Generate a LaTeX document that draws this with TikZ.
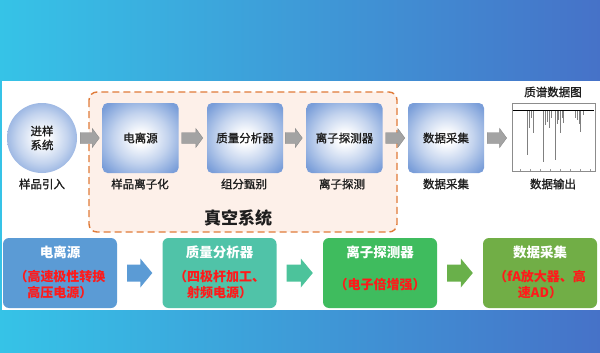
\documentclass[tikz,border=0pt]{standalone}
\usepackage{fontspec}
\setmainfont{Noto Sans CJK SC}
\newfontfamily\medfont[FakeBold=1.2]{Noto Sans CJK SC}
\usetikzlibrary{calc}
\definecolor{bandL}{HTML}{36C3E7}
\definecolor{bandR}{HTML}{4672C8}
\definecolor{vacline}{HTML}{E07B39}
\definecolor{vacfill}{HTML}{FDF0E9}
\definecolor{boxblue}{HTML}{7A9ED9}
\definecolor{boxbluedark}{HTML}{6486CC}
\definecolor{arrgray}{HTML}{A3A3A3}
\definecolor{arrgrayd}{HTML}{8C8C8C}
\definecolor{txt}{HTML}{1E1E1E}
\definecolor{cA}{HTML}{5B9BD5}
\definecolor{cB}{HTML}{50C3A8}
\definecolor{cC}{HTML}{3FBC5E}
\definecolor{cD}{HTML}{71AE46}
\definecolor{aB}{HTML}{4CC39B}
\definecolor{aC}{HTML}{69B04A}
\definecolor{redtxt}{HTML}{FF1A1A}
\pgfdeclareradialshading{boxshade}{\pgfpoint{0bp}{0bp}}{%
  color(0bp)=(white); color(4bp)=(white); color(18bp)=(boxblue!45!white);
  color(32bp)=(boxblue); color(50bp)=(boxblue!80!boxbluedark); color(70bp)=(boxbluedark)}
\newcommand\blockarr[6]{%
  \fill[#6] let \p1=(#1), \p2=(#2) in
    (\x1,\y1+#3) -- (\x2-#5,\y1+#3) -- (\x2-#5,\y1+#4) -- (\x2,\y1)
    -- (\x2-#5,\y1-#4) -- (\x2-#5,\y1-#3) -- (\x1,\y1-#3) -- cycle;}
\begin{document}
\begin{tikzpicture}[x=1pt,y=-1pt,
  topbox/.style={rectangle, rounded corners=5, shading=boxshade,
    minimum width=76, minimum height=70, inner sep=0,
    font=\medfont\fontsize{11.5}{13}\selectfont, text=txt},
  toplabel/.style={font=\medfont\fontsize{11.5}{13}\selectfont, text=txt, inner sep=0},
  botbox/.style={rectangle, rounded corners=6, minimum width=114, minimum height=70, inner sep=0},
  bottitle/.style={font=\bfseries\fontsize{13.5}{15}\selectfont, text=white, inner sep=0},
  botred/.style={font=\bfseries\fontsize{13}{16}\selectfont, text=redtxt, inner sep=0, align=center},
  grayarr/.style={fill=arrgray, draw=arrgrayd, line width=0.4}
]
\useasboundingbox (0,0) rectangle (600,353);
% background bands
\shade[left color=bandL, right color=bandR] (0,0) rectangle (600,81);
\fill[white] (0,81) rectangle (600,310);
\fill[bandL] (0,81) rectangle (2,310);
\shade[left color=bandL, right color=bandR] (0,310) rectangle (600,353);
% vacuum system box
\draw[vacline, fill=vacfill, line width=1.4, dash pattern=on 7pt off 4pt, rounded corners=8]
  (89,92) rectangle (397,232);
\node[font=\bfseries\fontsize{17}{19}\selectfont, text=txt, inner sep=0] (vac) at (238,218) {真空系统};
% top row
\node[circle, shading=boxshade, minimum size=70, inner sep=0, align=center,
  font=\medfont\fontsize{11.5}{14}\selectfont, text=txt] (circ) at (42,138) {进样\\系统};
\node[topbox] (b1) at (140.5,138) {电离源};
\node[topbox] (b2) at (245,138) {质量分析器};
\node[topbox] (b3) at (344.5,138) {离子探测器};
\node[topbox] (b4) at (446,138) {数据采集};
\node[rectangle, draw=black!45, line width=0.7, fill=white, minimum width=83, minimum height=68, inner sep=0] (chart) at (553.5,137) {};
\node[toplabel] (l0) at (42,184) {样品引入};
\node[toplabel] (l1) at (140,184) {样品离子化};
\node[toplabel] (l2) at (244,184) {组分甄别};
\node[toplabel] (l3) at (342,184) {离子探测};
\node[toplabel] (l4) at (446,184) {数据采集};
\node[toplabel] (l5) at (553,184) {数据输出};
\node[toplabel] (ct) at (553,92) {质谱数据图};
% chart content
\foreach \xx/\yy in {527/155,529/128,531/118,533/133,543/162,545/125,547/122,549/128,551/118,555/160,557/124,558/120,560/133,562/118,563/123,575/118,577/120,579/124,580/132,583/115}
  \draw[black!50, line width=1] (\xx,110) -- (\xx,\yy);
\draw[black, line width=0.9] (513,110) -- (594,110);
\foreach \xx in {520,530,540,550,560,570,580,590}
  \draw[black!40, line width=0.5] (\xx,171) -- (\xx,169);
% gray arrows
\blockarr{$(circ.east)+(3,0)$}{$(b1.west)+(-3,0)$}{5.5}{9.5}{7}{grayarr}
\blockarr{$(b1.east)+(3,0)$}{$(b2.west)+(-4,0)$}{5.5}{9.5}{7}{grayarr}
\blockarr{$(b2.east)+(2,0)$}{$(b3.west)+(-4,0)$}{5.5}{9.5}{7}{grayarr}
\blockarr{$(b3.east)+(3,0)$}{$(b4.west)+(-3,0)$}{5.5}{9.5}{7}{grayarr}
\blockarr{$(b4.east)+(3,0)$}{$(chart.west)+(-5,0)$}{5.5}{9.5}{7}{grayarr}
% bottom row
\node[botbox, fill=cA] (bA) at (60,273) {};
\node[botbox, fill=cB] (bB) at (219.5,273) {};
\node[botbox, fill=cC] (bC) at (380,273) {};
\node[botbox, fill=cD] (bD) at (540,273) {};
\node[bottitle] (tA) at ($(bA.north)+(0,15)$) {电离源};
\node[bottitle] (tB) at ($(bB.north)+(0,15)$) {质量分析器};
\node[bottitle] (tC) at ($(bC.north)+(0,15)$) {离子探测器};
\node[bottitle] (tD) at ($(bD.north)+(0,15)$) {数据采集};
\node[botred] (rA) at ($(bA.center)+(0,12)$) {（高速极性转换\\高压电源）};
\node[botred] (rB) at ($(bB.center)+(0,12)$) {（四极杆加工、\\射频电源）};
\node[botred] (rC) at ($(bC.center)+(0,12)$) {（电子倍增强）};
\node[botred] (rD) at ($(bD.center)+(0,12)$) {（fA放大器、高\\速AD）};
\blockarr{$(bA.east)+(10,0)$}{$(bB.west)+(-10,0)$}{8.5}{14.5}{12}{fill=cA}
\blockarr{$(bB.east)+(10,0)$}{$(bC.west)+(-10,0)$}{8.5}{14.5}{12}{fill=aB}
\blockarr{$(bC.east)+(10,0)$}{$(bD.west)+(-10,0)$}{8.5}{14.5}{12}{fill=aC}
\end{tikzpicture}
\end{document}
